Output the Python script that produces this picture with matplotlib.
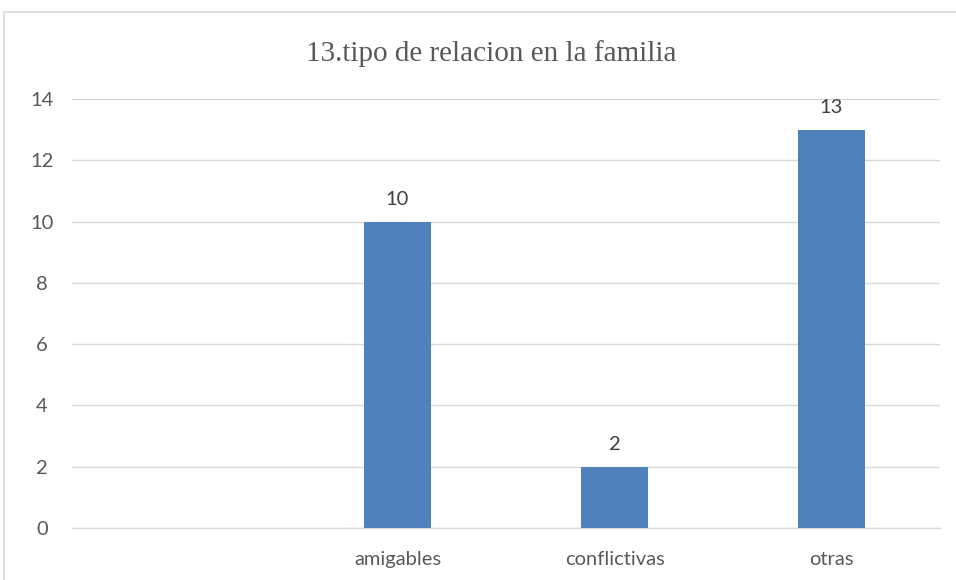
import numpy as np
import matplotlib
matplotlib.use("Agg")
import matplotlib.pyplot as plt
from matplotlib.patches import Rectangle

# datos del grafico
categorias = ["", "amigables", "conflictivas", "otras"]
valores = [np.nan, 10, 2, 13]
yticks = [0, 2, 4, 6, 8, 10, 12, 14]
titulo = "13.tipo de relacion en la familia"

GRIS = "#595959"
AZUL = "#4F81BD"

fig = plt.figure(figsize=(9.56, 5.8), dpi=100)
fig.patches.append(Rectangle((4/956, -0.05), 1.2, 1 - 12/580 + 0.05, transform=fig.transFigure,
                             fill=False, edgecolor="#D9D9D9", linewidth=1.2, zorder=0))

ax = fig.add_axes([72/956, 1 - 528/580, (940 - 72)/956, (528 - 99)/580])
x = np.arange(len(categorias))
barras = ax.bar(x, valores, width=0.31, color=AZUL, zorder=3)
etiquetas = ["" if np.isnan(v) else f"{int(v)}" for v in valores]
ax.bar_label(barras, labels=etiquetas, padding=10, fontsize=14.5, color="#404040", family="Lato")

ax.set_xlim(-0.5, len(categorias) - 0.5)
ax.set_ylim(0, 14)
ax.set_yticks(yticks)
ax.set_yticklabels([str(t) for t in yticks], ha="center")
ax.set_xticks(x)
ax.set_xticklabels(categorias)
ax.tick_params(axis="y", length=0, pad=21.6, labelsize=14.5, labelcolor=GRIS)
ax.tick_params(axis="x", length=0, pad=16.5, labelsize=14.5, labelcolor=GRIS)
for lab in ax.get_xticklabels() + ax.get_yticklabels():
    lab.set_family("Lato")
ax.grid(axis="y", color="#D9D9D9", linewidth=1, zorder=0)
for s in ["top", "right", "left"]:
    ax.spines[s].set_visible(False)
ax.spines["bottom"].set_color("#D9D9D9")
ax.spines["bottom"].set_linewidth(1)

fig.text(491/956, 1 - 54/580, titulo, ha="center", va="center",
         fontsize=21, color=GRIS, family="Liberation Serif")

fig.savefig("out.png", dpi=100)
